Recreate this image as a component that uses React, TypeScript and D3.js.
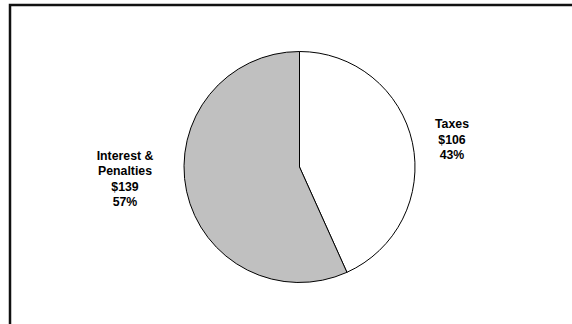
import React from "react";
import * as d3 from "d3";

const categories = ["Taxes", "Interest & Penalties"];
const values = [106, 139];
const amountLabels = ["$106", "$139"];
const percentLabels = ["43%", "57%"];
const labelLines = [["Taxes"], ["Interest &", "Penalties"]];
const colors = ["#ffffff", "#c0c0c0"];

export default function App() {
  const W = 572, H = 324;
  const cx = 299.5, cy = 167, r = 115.5;
  const pie = d3.pie<number>().sort(null).value((d) => d)(values);
  const arc = d3.arc<d3.PieArcDatum<number>>().innerRadius(0).outerRadius(r);
  const labelPos = [
    { x: 452, y: 128.3 },
    { x: 125, y: 159.8 },
  ];
  const lh = 15.35;
  return (
    <svg width={W} height={H} style={{ position: "absolute", left: 0, top: 0 }}
      fontFamily="Liberation Sans, Arial, sans-serif">
      <rect x={0} y={0} width={W} height={H} fill="#ffffff" />
      <rect x={10} y={5} width={W + 20} height={H + 20} fill="none" stroke="#111" strokeWidth={2.5} />
      <g transform={`translate(${cx},${cy})`}>
        {pie.map((p, i) => (
          <path key={categories[i]} d={arc(p) || ""} fill={colors[i]} stroke="#000" strokeWidth={1} />
        ))}
      </g>
      {categories.map((c, i) => {
        const lines = [...labelLines[i], amountLabels[i], percentLabels[i]];
        return (
          <text key={c} x={labelPos[i].x} y={labelPos[i].y} textAnchor="middle"
            fontSize={12.3} fontWeight="bold" fill="#000">
            {lines.map((l, j) => (
              <tspan key={j} x={labelPos[i].x} y={labelPos[i].y + j * lh}>{l}</tspan>
            ))}
          </text>
        );
      })}
    </svg>
  );
}
